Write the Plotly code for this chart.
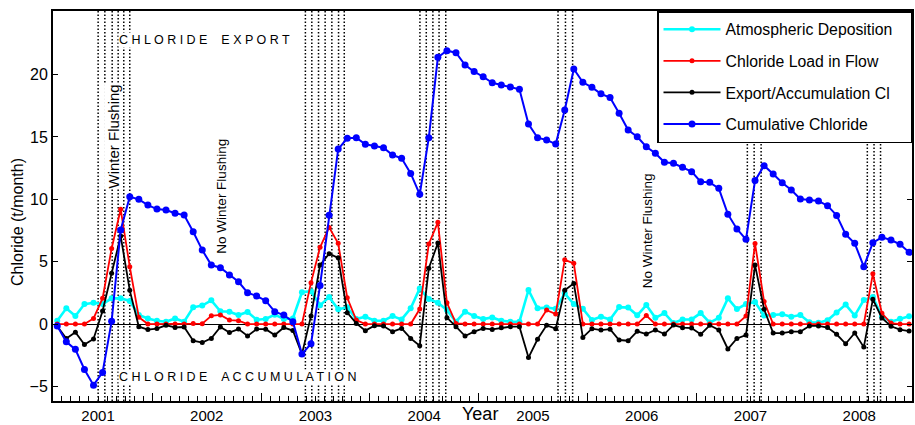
import plotly.graph_objects as go

# month index 0 = Aug 2000 ... 94 = Jun 2008
months = list(range(95))

atmospheric = [0.27, 1.26, 0.64, 1.6, 1.71, 1.6, 2.06, 2.06, 1.85, 0.72,
               0.45, 0.27, 0.19, 0.45, 0.19, 1.34, 1.48, 1.9, 1.02, 0.99,
               0.72, 0.97, 0.35, 0.41, 0.75, 0.41, 0.45, 2.55, 2.63, 1.5,
               2.16, 1.18, 1.34, 0.4, 0.59, 0.27, 0.27, 0.64, 0.37, 1.26,
               2.86, 2.0, 1.71, 1.12, 0.19, 0.99, 0.64, 0.4, 0.53, 0.27,
               0.19, 0.19, 2.73, 1.26, 1.32, 1.22, 2.46, 1.6, 1.23, 0.32,
               0.59, 0.36, 1.36, 1.32, 0.7, 1.52, 0.5, 0.88, 0.08, 0.37,
               0.37, 0.88, 0.12, 0.5, 2.06, 1.2, 1.6, 1.76, 0.68, 0.72,
               0.78, 0.59, 0.72, 0.15, 0.1, 0.3, 0.92, 1.56, 0.68, 1.93,
               2.16, 0.6, 0.19, 0.42, 0.62]

load_in_flow = [0, 0, 0, 0, 0.45, 2.06, 6.06, 9.2, 4.6, 0.55,
                0, 0, 0, 0, 0, 0.05, 0.03, 0.66, 0.73, 0.32,
                0.27, 0, 0, 0, 0, 0, 0, 0, 3.32, 6.15,
                7.75, 6.47, 2.11, 0.32, 0, 0, 0, 0, 0, 0,
                1.2, 6.42, 8.16, 1.7, 0.05, 0, 0, 0, 0, 0,
                0, 0, 0, 0, 1.12, 0.8, 5.15, 4.87, 0, 0,
                0, 0, 0, 0, 0, 0.68, 0, 0, 0, 0,
                0, 0, 0, 0, 0, 0, 0.64, 6.45, 1.8, 0,
                0, 0, 0, 0, 0, 0, 0, 0, 0, 0,
                4.03, 0.86, 0.08, 0, 0]

export_accum = [-0.17, -1.16, -0.66, -1.64, -1.2, 1.05, 4.07, 7.05, 2.7, -0.21,
                -0.44, -0.36, -0.1, -0.27, -0.24, -1.33, -1.48, -1.15, -0.24, -0.68,
                -0.4, -0.95, -0.4, -0.41, -0.88, -0.28, -0.52, -2.41, 0.65, 4.73,
                5.64, 5.31, 0.91, 0.05, -0.53, -0.13, -0.16, -0.61, -0.35, -1.15,
                -1.74, 4.47, 6.5, 0.51, -0.21, -0.96, -0.61, -0.35, -0.43, -0.29,
                -0.21, -0.21, -2.69, -1.22, -0.1, -0.37, 2.7, 3.26, -1.07, -0.37,
                -0.48, -0.41, -1.28, -1.34, -0.58, -0.8, -0.48, -0.8, -0.08, -0.29,
                -0.32, -0.82, -0.1, -0.48, -2.0, -1.15, -0.88, 4.73, 1.19, -0.72,
                -0.72, -0.61, -0.61, -0.15, -0.15, -0.28, -0.82, -1.58, -0.72, -1.85,
                1.98, 0.49, -0.18, -0.45, -0.56]

cumulative = [-0.16, -1.42, -2.03, -3.64, -4.9, -3.88, 0.22, 7.54, 10.2, 10.0,
              9.54, 9.22, 9.14, 8.88, 8.74, 7.4, 5.93, 4.73, 4.52, 3.93,
              3.39, 2.51, 2.25, 1.87, 0.99, 0.72, 0.19, -2.41, -1.58, 3.1,
              8.72, 14.03, 14.89, 14.94, 14.41, 14.27, 14.14, 13.55, 13.29, 12.08,
              10.4, 14.94, 21.39, 21.92, 21.76, 20.77, 20.24, 19.83, 19.35, 19.17,
              19.0, 18.82, 16.04, 14.94, 14.76, 14.43, 17.16, 20.45, 19.38, 18.98,
              18.46, 18.16, 16.9, 15.56, 15.02, 14.22, 13.69, 12.97, 12.89, 12.57,
              12.22, 11.41, 11.36, 10.88, 8.81, 7.62, 6.79, 11.5, 12.7, 12.03,
              11.33, 10.75, 10.02, 9.94, 9.86, 9.49, 8.71, 7.19, 6.47, 4.6,
              6.52, 6.95, 6.74, 6.39, 5.75]

year_labels = ["2001", "2002", "2003", "2004", "2005", "2006", "2007", "2008"]
year_pos = [4.5 + 12 * k for k in range(len(year_labels))]
midyear_pos = [10.5 + 12 * k for k in range(8)]
month_bounds = [i + 0.5 for i in range(-1, 95)]

flush_lines = [4.51, 5.25, 6.06, 6.72, 7.34, 8.0,
               27.38, 28.09, 28.83, 29.56, 30.3, 31.04, 31.67,
               40.02, 40.72, 41.45, 42.13, 42.87,
               55.26, 56.08, 56.87,
               76.15, 76.9, 77.67,
               89.39, 90.13, 90.85]

FONT = "Liberation Sans, Arial, sans-serif"
XR = [-0.47, 94.32]
PAD = "\u00a0\u00a0\u00a0"

fig = go.Figure()
series = [
    ("Atmospheric Deposition", atmospheric, "#00FFFF", 2.6, 6),
    ("Chloride Load in Flow", load_in_flow, "#FF0000", 1.8, 5),
    ("Export/Accumulation Cl", export_accum, "#000000", 1.8, 5),
    ("Cumulative Chloride", cumulative, "#0000FF", 2.0, 7),
]
for name, vals, col, lw, ms in series:
    fig.add_trace(go.Scatter(
        x=months, y=vals, mode="lines+markers", name=name + PAD,
        legendgroup=name,
        line=dict(color=col, width=lw),
        marker=dict(color=col, size=ms),
    ))

# invisible trace to carry second x axis (long mid-year ticks)
fig.add_trace(go.Scatter(x=[XR[0]], y=[0], xaxis="x2", mode="markers",
                         marker=dict(opacity=0), showlegend=False, hoverinfo="skip"))

shapes = []
for xv in flush_lines:
    shapes.append(dict(type="line", xref="x", yref="paper", x0=xv, x1=xv, y0=0, y1=1,
                       line=dict(color="black", width=1.5, dash="1.5px,2px"), layer="below"))

annotations = [
    dict(text="C H L O R I D E \u00a0 \u00a0E X P O R T", x=6.68, y=22.8, xref="x", yref="y",
         xanchor="left", yanchor="middle", showarrow=False,
         font=dict(family=FONT, size=12.5, color="black"), bgcolor="white", borderpad=0),
    dict(text="C H L O R I D E \u00a0 \u00a0A C C U M U L A T I O N", x=6.68, y=-4.23, xref="x", yref="y",
         xanchor="left", yanchor="middle", showarrow=False,
         font=dict(family=FONT, size=12.5, color="black"), bgcolor="white", borderpad=0),
    dict(text="Winter Flushing", x=6.21, y=15.0, xref="x", yref="y", textangle=-90,
         xanchor="center", yanchor="middle", showarrow=False,
         font=dict(family=FONT, size=15, color="black"), bgcolor="white", borderpad=0),
    dict(text="No Winter Flushing", x=18.13, y=10.26, xref="x", yref="y", textangle=-90,
         xanchor="center", yanchor="middle", showarrow=False,
         font=dict(family=FONT, size=13.5, color="black"), bgcolor="white", borderpad=0),
    dict(text="No Winter Flushing", x=65.1, y=7.46, xref="x", yref="y", textangle=-90,
         xanchor="center", yanchor="middle", showarrow=False,
         font=dict(family=FONT, size=13.5, color="black"), bgcolor="white", borderpad=0),
    dict(text="Year", x=46.65, y=-0.034, xref="x", yref="paper",
         xanchor="center", yanchor="middle", showarrow=False,
         font=dict(family=FONT, size=18, color="black"), borderpad=0),
    dict(text="Chloride (t/month)", x=-0.0407, y=0.459, xref="paper", yref="paper",
         textangle=-90, xanchor="center", yanchor="middle", showarrow=False,
         font=dict(family=FONT, size=16, color="black")),
]

fig.update_layout(
    width=915, height=425,
    margin=dict(l=53, r=1, t=11, b=24),
    paper_bgcolor="white", plot_bgcolor="white",
    font=dict(family=FONT, size=15, color="black"),
    showlegend=True,
    legend=dict(x=1, y=1, xanchor="right", yanchor="top",
                bgcolor="white", bordercolor="black", borderwidth=1.5,
                font=dict(family=FONT, size=15.8, color="black"),
                tracegroupgap=8, itemwidth=57),
    xaxis=dict(range=XR, showgrid=False, zeroline=False,
               tickmode="array", tickvals=year_pos, ticktext=year_labels,
               ticks="inside", ticklen=5, tickwidth=1.2, tickcolor="black",
               minor=dict(tickmode="array", tickvals=month_bounds, ticks="inside",
                          ticklen=5, tickwidth=1.2, tickcolor="black", showgrid=False),
               showline=True, linecolor="black", linewidth=2, mirror=True,
               tickfont=dict(size=15)),
    xaxis2=dict(range=XR, overlaying="x", anchor="y", side="bottom",
                showgrid=False, zeroline=False, showticklabels=False,
                tickmode="array", tickvals=midyear_pos,
                ticks="inside", ticklen=8, tickwidth=1.4, tickcolor="black",
                showline=False),
    yaxis=dict(range=[-6.17, 25.1], showgrid=False,
               zeroline=True, zerolinecolor="black", zerolinewidth=1,
               tickmode="array", tickvals=[-5, 0, 5, 10, 15, 20],
               ticks="inside", ticklen=5, tickwidth=1.2, tickcolor="black",
               showline=True, linecolor="black", linewidth=2, mirror="ticks",
               tickfont=dict(size=16)),
    shapes=shapes,
    annotations=annotations,
)

fig.write_html("out.html")
